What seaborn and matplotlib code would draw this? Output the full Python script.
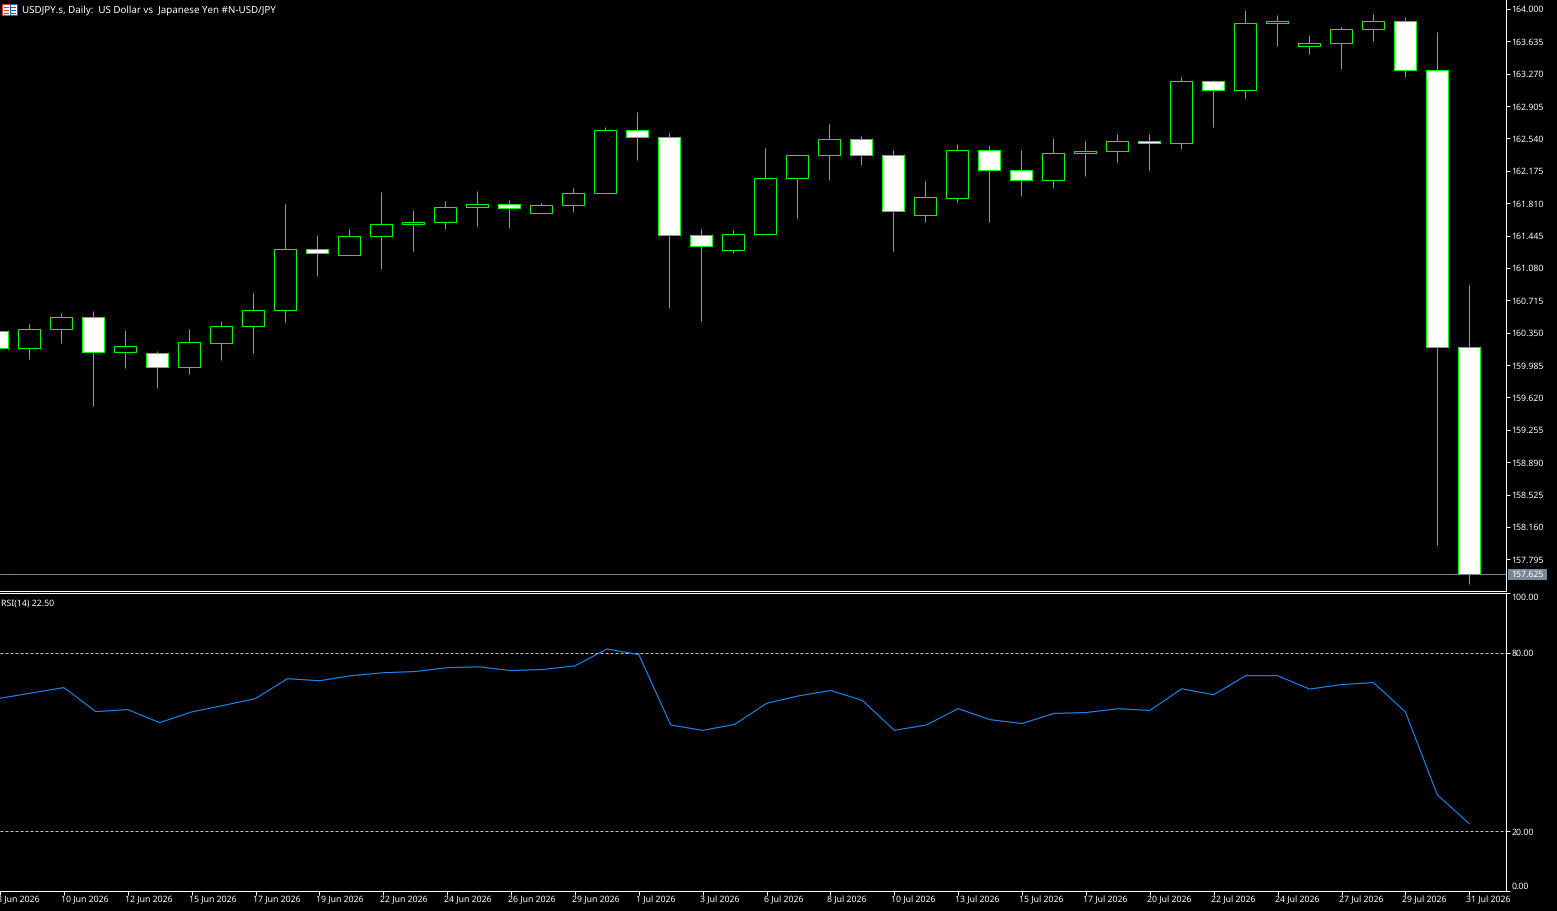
import numpy as np
import pandas as pd
import seaborn as sns
import matplotlib.pyplot as plt
from matplotlib.patches import Rectangle
from matplotlib.transforms import ScaledTranslation

opens = [160.371, 160.179, 160.393, 160.529, 160.134, 160.123, 159.965, 160.236, 160.427, 160.607,
         161.295, 161.227, 161.441, 161.577, 161.599, 161.768, 161.802, 161.701, 161.791, 161.926,
         162.636, 162.557, 161.453, 161.284, 161.464, 162.095, 162.354, 162.535, 162.354, 161.678,
         161.870, 162.411, 162.185, 162.073, 162.377, 162.400, 162.512, 162.490, 163.188, 163.087,
         163.842, 163.583, 163.617, 163.775, 163.865, 163.312, 160.190]
highs = [160.393, 160.450, 160.574, 160.596, 160.382, 160.145, 160.393, 160.483, 160.799, 161.802,
         161.453, 161.520, 161.937, 161.735, 161.836, 161.949, 161.847, 161.813, 161.983, 162.670,
         162.839, 162.602, 161.520, 161.509, 162.433, 162.354, 162.704, 162.569, 162.411, 162.061,
         162.478, 162.467, 162.411, 162.546, 162.512, 162.591, 162.591, 163.234, 163.200, 163.989,
         163.932, 163.707, 163.797, 163.944, 163.910, 163.741, 160.889]
lows = [160.134, 160.055, 160.236, 159.525, 159.954, 159.728, 159.886, 160.044, 160.123, 160.472,
        160.991, 161.227, 161.070, 161.272, 161.520, 161.554, 161.532, 161.701, 161.712, 161.926,
        162.298, 160.630, 160.483, 161.250, 161.464, 161.644, 162.073, 162.242, 161.272, 161.599,
        161.825, 161.599, 161.892, 161.983, 162.118, 162.276, 162.185, 162.422, 162.670, 162.997,
        163.583, 163.493, 163.324, 163.639, 163.234, 157.959, 157.519]
closes = [160.179, 160.393, 160.529, 160.134, 160.202, 159.965, 160.247, 160.427, 160.607, 161.295,
          161.250, 161.441, 161.577, 161.599, 161.768, 161.802, 161.757, 161.791, 161.926, 162.636,
          162.557, 161.453, 161.329, 161.464, 162.095, 162.354, 162.535, 162.354, 161.723, 161.881,
          162.411, 162.185, 162.073, 162.377, 162.400, 162.512, 162.490, 163.188, 163.087, 163.842,
          163.865, 163.617, 163.775, 163.865, 163.312, 160.190, 157.625]
rsi = [64.7, 66.5, 68.3, 60.2, 60.9, 56.5, 60.1, 62.3, 64.6, 71.3,
       70.6, 72.3, 73.3, 73.7, 75.0, 75.3, 74.0, 74.4, 75.6, 81.3,
       79.4, 55.7, 53.9, 55.9, 63.0, 65.5, 67.3, 64.0, 53.9, 55.7,
       61.2, 57.5, 56.2, 59.6, 59.9, 61.2, 60.6, 67.9, 65.9, 72.3,
       72.3, 67.8, 69.3, 70.0, 60.1, 32.2, 22.5]

date_labels = ['8 Jun 2026', '10 Jun 2026', '12 Jun 2026', '15 Jun 2026', '17 Jun 2026', '19 Jun 2026',
               '22 Jun 2026', '24 Jun 2026', '26 Jun 2026', '29 Jun 2026', '1 Jul 2026', '3 Jul 2026',
               '6 Jul 2026', '8 Jul 2026', '10 Jul 2026', '13 Jul 2026', '15 Jul 2026', '17 Jul 2026',
               '20 Jul 2026', '22 Jul 2026', '24 Jul 2026', '27 Jul 2026', '29 Jul 2026', '31 Jul 2026']
price_ticks = [164.000, 163.635, 163.270, 162.905, 162.540, 162.175, 161.810, 161.445, 161.080,
               160.715, 160.350, 159.985, 159.620, 159.255, 158.890, 158.525, 158.160, 157.795]
rsi_ticks = [100, 80, 20, 0]
rsi_levels = [80, 20]
last_price = 157.625

title = 'USDJPY.s, Daily:  US Dollar vs  Japanese Yen #N-USD/JPY'
rsi_title = 'RSI(14) 22.50'

W, H = 1557, 911
LIME = '#00ff00'
BLUE = '#1e90ff'
SLATE = '#778899'
ONE_PX = 0.72
TXT = 6.3
PX_PER_YEN = 88.68

sns.set_theme(style='dark', rc={'figure.facecolor': 'black', 'axes.facecolor': 'black',
                                'axes.edgecolor': 'white', 'text.color': 'white',
                                'xtick.color': 'white', 'ytick.color': 'white'})
plt.rcParams['font.family'] = ['Noto Sans', 'DejaVu Sans']
plt.rcParams['text.hinting'] = 'native'

df = pd.DataFrame({'bar': range(len(opens)), 'open': opens, 'high': highs, 'low': lows, 'close': closes})
df['body_low'] = df[['open', 'close']].min(axis=1)
df['body'] = (df['close'] - df['open']).abs()
up = df[df['close'] >= df['open']]
down = df[df['close'] < df['open']]


def px_axes(left, top, right, bottom):
    return fig.add_axes([left / W, 1 - bottom / H, (right - left) / W, (bottom - top) / H])


fig = plt.figure(figsize=(W / 100, H / 100), dpi=100)
ax1 = px_axes(0, 0, 1505.5, 590.9)
ax2 = px_axes(0, 593.4, 1505.5, 890.5)

# candles
ax1.vlines(df['bar'], df['low'], df['high'], color=LIME, lw=ONE_PX, zorder=1)
for part, fill in [(up, 'black'), (down, 'white')]:
    sns.barplot(data=part, x='bar', y='body', bottom=part['body_low'].values, native_scale=True,
                estimator='mean', errorbar=None, width=0.6875, color=fill, saturation=1,
                linewidth=ONE_PX, zorder=2, ax=ax1)
for bar in ax1.patches:
    bar.set_edgecolor(LIME)
ax1.axhline(last_price, color=SLATE, lw=ONE_PX, zorder=3)

# rsi
sns.lineplot(x=df['bar'], y=rsi, color=BLUE, ax=ax2)
ax2.lines[0].set_linewidth(0.75)
for lv in rsi_levels:
    ax2.axhline(lv, color='#c8c8c8', lw=ONE_PX, ls=(0, (3, 2)), zorder=1)

for ax in (ax1, ax2):
    ax.set_xlim(2.8 / 32, 2.8 / 32 + 1505.5 / 32)
    ax.set_xlabel('')
    ax.set_ylabel('')
    ax.grid(False)
    ax.yaxis.tick_right()
    ax.tick_params(axis='y', length=3.2, width=ONE_PX, pad=1, labelsize=TXT, right=True, left=False)
    for s in ['left', 'top']:
        ax.spines[s].set_visible(False)
    for s in ['right', 'bottom']:
        ax.spines[s].set_linewidth(ONE_PX)

ax1.set_ylim(164 - (590.9 - 9.0) / PX_PER_YEN, 164 + 9.0 / PX_PER_YEN)
ax1.set_yticks(price_ticks, [f'{t:.3f}' for t in price_ticks])
ax1.set_xticks([])

ax2.spines['top'].set_visible(True)
ax2.spines['top'].set_linewidth(ONE_PX)
ax2.set_ylim(0, 100)
ax2.set_yticks(rsi_ticks, [f'{t:.2f}' for t in rsi_ticks])
for lab, t in zip(ax2.get_yticklabels(), rsi_ticks):
    if t == 100:
        lab.set_verticalalignment('top')
    elif t == 0:
        lab.set_verticalalignment('bottom')

ax2.set_xticks(df['bar'].values[::2], date_labels, ha='left')
ax2.tick_params(axis='x', length=2.9, width=ONE_PX, pad=0.6, labelsize=TXT, bottom=True)
# labels start right at the tick
shift = ScaledTranslation(-3 / 100, 0, fig.dpi_scale_trans)
for lab in ax2.get_xticklabels():
    lab.set_transform(lab.get_transform() + shift)

# header texts and last price tag
fig.text(22 / W, 1 - 10 / H, title, fontsize=7.05, va='center', ha='left')
fig.text(1 / W, 1 - 603 / H, rsi_title, fontsize=TXT, va='center', ha='left')
fig.patches.append(Rectangle((1508 / W, 1 - 580 / H), 39 / W, 11 / H, transform=fig.transFigure,
                             facecolor=SLATE, edgecolor='none'))
fig.text(1511 / W, 1 - 574.8 / H, f'{last_price:.3f}', fontsize=TXT, va='center', ha='left', color='white')

# symbol icon
fig.patches.append(Rectangle((2 / W, 1 - 15 / H), 8 / W, 11 / H, transform=fig.transFigure,
                             facecolor='#f4f4f4', edgecolor='#e8392b', lw=ONE_PX))
fig.patches.append(Rectangle((10 / W, 1 - 15 / H), 7 / W, 11 / H, transform=fig.transFigure,
                             facecolor='#f4f4f4', edgecolor='#1060b0', lw=ONE_PX))
for row in [7, 10, 13]:
    fig.patches.append(Rectangle((4 / W, 1 - (row + 1) / H), 5 / W, 1 / H, transform=fig.transFigure,
                                 facecolor='#e8392b', edgecolor='none'))
    fig.patches.append(Rectangle((11 / W, 1 - (row + 1) / H), 5 / W, 1 / H, transform=fig.transFigure,
                                 facecolor='#1060b0', edgecolor='none'))

fig.savefig('out.png', dpi=100, facecolor='black')
